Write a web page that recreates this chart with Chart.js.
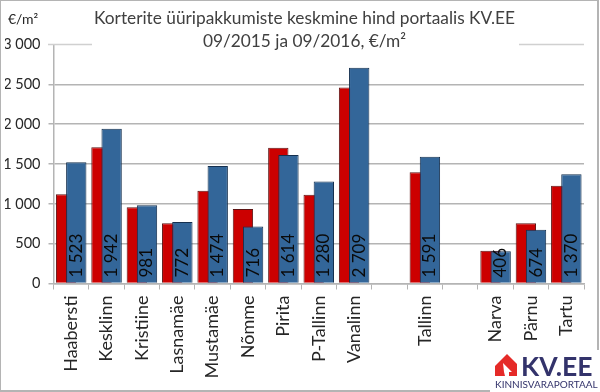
<!DOCTYPE html>
<html>
<head>
<meta charset="utf-8">
<script src="https://cdn.jsdelivr.net/npm/chart.js@4/dist/chart.umd.min.js"></script>
<style>
body { margin: 0; background: #fff; }
canvas { display: block; }
</style>
</head>
<body>
<canvas id="rentChart" width="600" height="392"></canvas>
<script>
const categories = ["Haabersti", "Kesklinn", "Kristiine", "Lasnamäe", "Mustamäe", "Nõmme", "Pirita", "P-Tallinn", "Vanalinn", "", "Tallinn", "", "Narva", "Pärnu", "Tartu"];
const prices2015 = [1120, 1710, 956, 755, 1164, 935, 1705, 1114, 2462, null, 1395, null, 410, 755, 1227];
const prices2016 = [1523, 1942, 981, 772, 1474, 716, 1614, 1280, 2709, null, 1591, null, 406, 674, 1370];
const titleLines = ["Korterite üüripakkumiste keskmine hind portaalis KV.EE", "09/2015 ja 09/2016, €/m²"];

const FONT = "Lato";
const GRID = "#b4b4b4";
const fmt = v => String(v).replace(/\B(?=(\d{3})+$)/g, " ");

// picture frame, unit label, and the top gridline that is cut by the title
const backdrop = {
    id: "backdrop",
    afterLayout(chart) {
        // the title sits a bit right of the canvas centre
        chart.titleBlock.left += 10;
        chart.titleBlock.right += 10;
    },
    beforeDatasetsDraw(chart) {
        const ctx = chart.ctx;
        const top = chart.scales.y.getPixelForValue(3000);
        ctx.save();
        ctx.strokeStyle = GRID;
        ctx.lineWidth = 2;
        ctx.strokeRect(0, 0, 598, 391);
        ctx.strokeStyle = "#d0d0d0";
        ctx.lineWidth = 1.5;
        ctx.beginPath();
        ctx.moveTo(48, top);
        ctx.lineTo(92, top);
        ctx.moveTo(519, top);
        ctx.lineTo(chart.chartArea.right, top);
        ctx.stroke();
        ctx.fillStyle = "#262626";
        ctx.font = "14px " + FONT;
        ctx.textAlign = "left";
        ctx.textBaseline = "middle";
        ctx.fillText("€/m²", 8, 19);
        ctx.restore();
    }
};

// the 2016 bars must sit on top of the 2015 ones, so they are drawn last
const overlap = {
    id: "overlap",
    beforeDatasetDraw(chart, args) {
        if (args.index === 1) return false;
    },
    afterDatasetsDraw(chart) {
        const ctx = chart.ctx;
        const meta = chart.getDatasetMeta(1);
        meta.controller.draw();
        ctx.save();
        ctx.fillStyle = "#0a0a0a";
        ctx.font = "17px " + FONT;
        ctx.textAlign = "left";
        ctx.textBaseline = "middle";
        meta.data.forEach((bar, i) => {
            if (prices2016[i] === null) return;
            ctx.save();
            ctx.translate(bar.x, chart.scales.y.getPixelForValue(0) - 6);
            ctx.rotate(-Math.PI / 2);
            ctx.fillText(fmt(prices2016[i]), 0, 0);
            ctx.restore();
        });
        ctx.restore();
    }
};

const logo = {
    id: "logo",
    afterDraw(chart) {
        const ctx = chart.ctx;
        ctx.save();
        ctx.fillStyle = "#fff";
        ctx.fillRect(490, 350, 110, 42);
        ctx.fillStyle = "#e52a28";
        ctx.beginPath();
        ctx.moveTo(495, 366);
        ctx.lineTo(507, 354);
        ctx.lineTo(517, 364);
        ctx.lineTo(517, 376);
        ctx.lineTo(495, 376);
        ctx.closePath();
        ctx.fill();
        ctx.fillStyle = "#fff";
        ctx.beginPath();
        ctx.moveTo(503, 363);
        ctx.lineTo(512, 372);
        ctx.lineTo(509, 372);
        ctx.lineTo(509, 376);
        ctx.lineTo(505, 376);
        ctx.lineTo(504, 372);
        ctx.closePath();
        ctx.fill();
        ctx.fillStyle = "#33336b";
        ctx.textAlign = "left";
        ctx.textBaseline = "alphabetic";
        ctx.font = "bold 26.5px " + FONT;
        ctx.fillText("KV.EE", 521, 376);
        ctx.font = "10px " + FONT;
        ctx.fillText("KINNISVARAPORTAAL", 495, 388);
        ctx.restore();
    }
};

new Chart(document.getElementById("rentChart"), {
    type: "bar",
    data: {
        labels: categories,
        datasets: [
            { label: "09/2015", data: prices2015, backgroundColor: "#cc0000", borderColor: "#5c1414", borderWidth: 1 },
            { label: "09/2016", data: prices2016, backgroundColor: "#336699", borderColor: "#15304f", borderWidth: 1 }
        ]
    },
    options: {
        responsive: false,
        animation: false,
        categoryPercentage: 0.575,
        barPercentage: 2,
        layout: { padding: { left: 5, right: 16, top: 0, bottom: 0 } },
        plugins: {
            legend: { display: false },
            tooltip: { enabled: false },
            title: {
                display: true,
                text: titleLines,
                color: "#404040",
                font: { family: FONT, size: 17.3, weight: "normal", lineHeight: 1.33 },
                padding: { top: 7, bottom: -8.5 }
            }
        },
        scales: {
            x: {
                grid: { drawOnChartArea: false, color: GRID, tickLength: 6 },
                border: { color: GRID, width: 1.5 },
                ticks: {
                    autoSkip: false,
                    minRotation: 90,
                    maxRotation: 90,
                    color: "#262626",
                    padding: 6,
                    font: { family: FONT, size: 18 }
                },
                afterFit(scale) { scale.height = 108.5; }
            },
            y: {
                min: 0,
                max: 3000,
                grid: {
                    color: c => (c.tick && c.tick.value === 3000 ? "transparent" : GRID),
                    lineWidth: 1.5,
                    tickLength: 5
                },
                border: { color: GRID, width: 1.5 },
                ticks: {
                    stepSize: 500,
                    color: "#262626",
                    padding: 8,
                    font: { family: FONT, size: 14.5 },
                    callback: v => fmt(v)
                },
                afterFit(scale) { scale.width = 48.5; }
            }
        }
    },
    plugins: [backdrop, overlap, logo]
});
</script>
</body>
</html>
